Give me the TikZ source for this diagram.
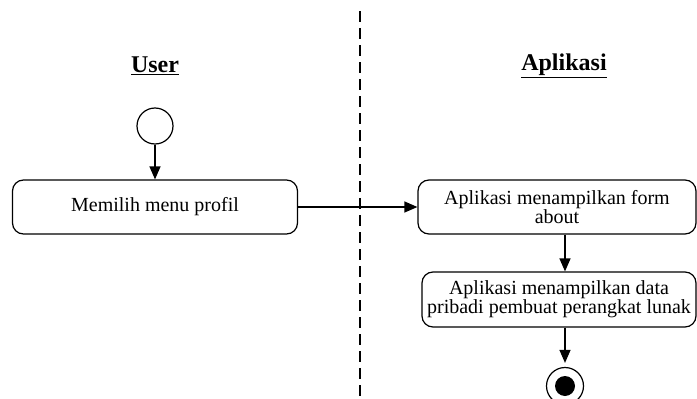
\documentclass[tikz,border=0pt]{standalone}
\usepackage{fontspec}
\setmainfont{Liberation Serif}
\usetikzlibrary{arrows.meta}

\tikzset{
  activity/.style={draw, line width=1.2pt, rounded corners=11pt, align=center,
    font=\fontsize{20}{19}\selectfont, inner sep=2pt, minimum height=54pt},
  flow/.style={line width=1.2pt, -{Triangle[length=13pt,width=11pt]}},
  lane/.style={font=\fontsize{24}{28}\selectfont\bfseries},
}

\begin{document}
\begin{tikzpicture}[x=1pt,y=-1pt]
\useasboundingbox (0,0) rectangle (697,399);

% swimlane divider
\draw [line width=1.2pt, dash pattern=on 11pt off 6pt] (360,11) -- (360,399);
\node [lane] (user) at (155,66) {\underline{User}};
\node [lane] (app) at (564,66) {\underline{Aplikasi}};

\node [circle, draw, line width=1.2pt, minimum size=36pt, inner sep=0pt] (start) at (155,126) {};
\node [activity, minimum width=285pt] (pilih) at (155,207) {Memilih menu profil};
\node [activity, minimum width=278pt] (form) at (557,207) {Aplikasi menampilkan form\\about};
\node [activity, minimum width=274pt, minimum height=55pt] (data) at (559,299.5) {Aplikasi menampilkan data\\pribadi pembuat perangkat lunak};
\node [circle, draw, line width=1.2pt, minimum size=37pt, inner sep=0pt] (stop) at (565,386) {};
\fill (stop) circle [radius=10pt];

\draw [flow] (start) -- (pilih);
\draw [flow] (pilih) -- (form);
\draw [flow] (form.south -| stop) -- (data.north -| stop);
\draw [flow, shorten >=4pt] (data.south -| stop) -- (stop);

\end{tikzpicture}
\end{document}
